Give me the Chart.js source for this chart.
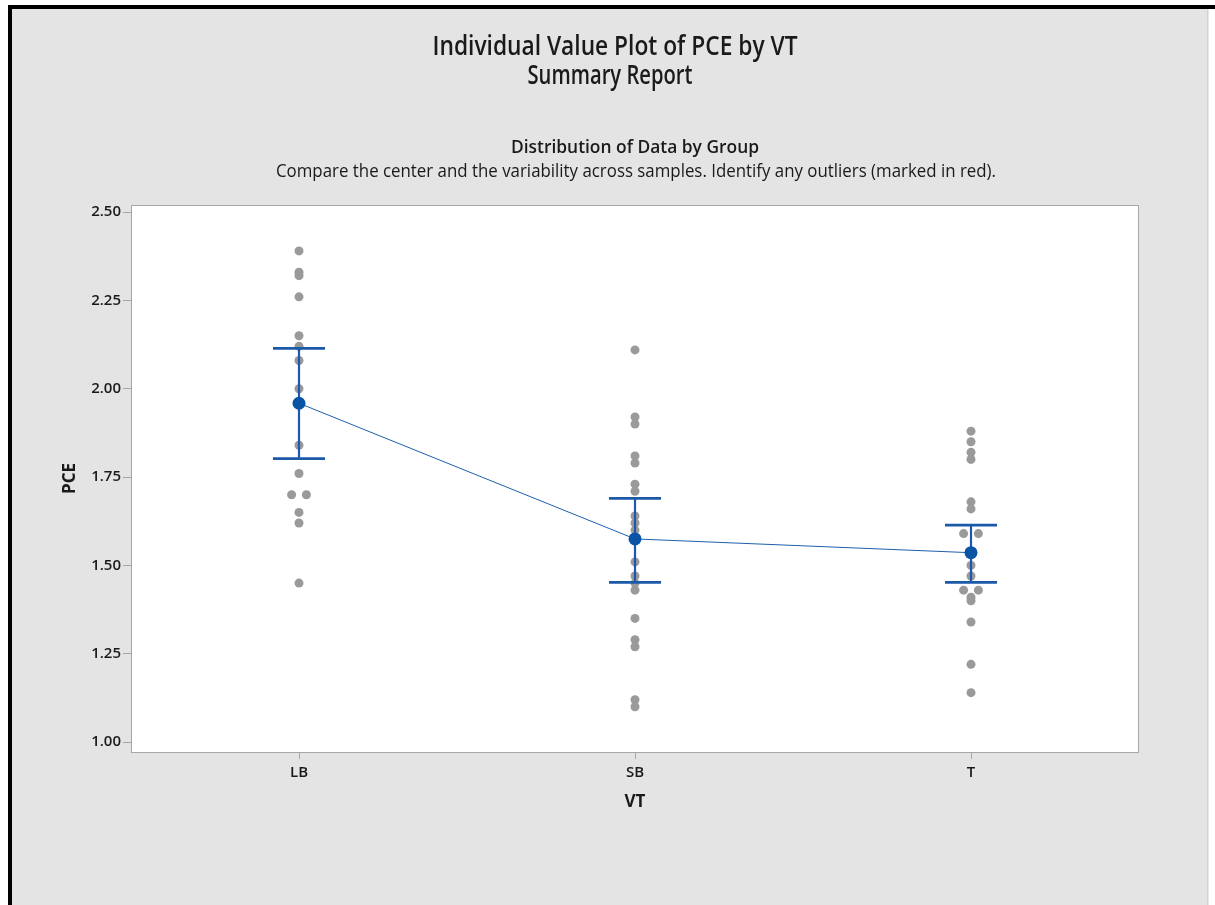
<!DOCTYPE html>
<html>
<head>
<meta charset="utf-8">
<title>Individual Value Plot of PCE by VT</title>
<script src="https://cdn.jsdelivr.net/npm/chart.js@4.4.1/dist/chart.umd.min.js"></script>
<style>
  html, body { margin: 0; padding: 0; background: #fff; }
  #wrap { width: 1215px; height: 905px; position: relative; }
</style>
</head>
<body>
<div id="wrap"><canvas id="grafico"></canvas></div>
<script>
// Dados
const groups = ['LB', 'SB', 'T'];
const lbValues = [2.39, 2.33, 2.32, 2.26, 2.15, 2.12, 2.08, 2.00, 1.84, 1.76, 1.70, 1.70, 1.65, 1.62, 1.45];
const sbValues = [2.11, 1.92, 1.90, 1.81, 1.79, 1.73, 1.71, 1.64, 1.62, 1.60, 1.51, 1.47, 1.45, 1.43, 1.35, 1.29, 1.27, 1.12, 1.10];
const tValues = [1.88, 1.85, 1.82, 1.80, 1.68, 1.66, 1.59, 1.59, 1.50, 1.47, 1.43, 1.43, 1.41, 1.40, 1.34, 1.22, 1.14];
const groupMeans = [1.959, 1.575, 1.536];
const ciUpper = [2.114, 1.690, 1.614];
const ciLower = [1.802, 1.452, 1.452];
const yTicks = [1.00, 1.25, 1.50, 1.75, 2.00, 2.25, 2.50];

const TEXT = '#1a1a1a';
const FONT = "'Open Sans', 'Noto Sans', sans-serif";

/**
 * Monta os pontos individuais; valores repetidos ficam lado a lado
 */
function montarPontos() {
    const all = [lbValues, sbValues, tValues];
    const pts = [];
    all.forEach(function(vals, g) {
        const seen = {};
        vals.forEach(function(v) {
            const key = v.toFixed(2);
            const n = vals.filter(function(o) { return o.toFixed(2) === key; }).length;
            seen[key] = (seen[key] || 0) + 1;
            let dx = 0;
            if (n > 1) {
                dx = (seen[key] - (n + 1) / 2) * 0.044;
            }
            pts.push({ x: g + dx, y: v });
        });
    });
    return pts;
}

// Fundo, moldura e caixa do gráfico
const fundoPlugin = {
    id: 'fundo',
    beforeDraw(chart) {
        const ctx = chart.ctx;
        const a = chart.chartArea;
        ctx.save();
        ctx.fillStyle = '#ffffff';
        ctx.fillRect(0, 0, chart.width, chart.height);
        ctx.fillStyle = '#e4e4e4';
        ctx.fillRect(12, 9, 1196, chart.height - 9);
        ctx.fillStyle = '#d2d2d2';
        ctx.fillRect(1207, 9, 1.5, chart.height - 9);
        ctx.fillStyle = '#000000';
        ctx.fillRect(8, 5, chart.width - 8, 4);
        ctx.fillRect(8, 5, 4, chart.height - 5);
        ctx.fillStyle = '#ffffff';
        ctx.fillRect(a.left, a.top, a.right - a.left, a.bottom - a.top);
        ctx.restore();
    },
    afterDraw(chart) {
        const ctx = chart.ctx;
        const a = chart.chartArea;
        ctx.save();
        ctx.strokeStyle = '#a6a6a6';
        ctx.lineWidth = 1;
        ctx.strokeRect(a.left + 0.5, a.top + 0.5, a.right - a.left - 1, a.bottom - a.top);
        ctx.restore();
    }
};

// Títulos com largura ajustada (fonte condensada no original)
const titulosPlugin = {
    id: 'titulos',
    afterDraw(chart) {
        const ctx = chart.ctx;
        const linhas = [
            { text: 'Individual Value Plot of PCE by VT', font: '600 27px ' + FONT, x: 615, y: 47, w: 365 },
            { text: 'Summary Report', font: '600 27px ' + FONT, x: 610, y: 76, w: 165 },
            { text: 'Distribution of Data by Group', font: '600 18px ' + FONT, x: 635, y: 148, w: 248 },
            { text: 'Compare the center and the variability across samples. Identify any outliers (marked in red).', font: '400 18px ' + FONT, x: 636, y: 172, w: 720 }
        ];
        ctx.save();
        ctx.fillStyle = TEXT;
        ctx.textAlign = 'center';
        ctx.textBaseline = 'middle';
        linhas.forEach(function(l) {
            ctx.font = l.font;
            const sx = l.w / ctx.measureText(l.text).width;
            ctx.save();
            ctx.translate(l.x, l.y);
            ctx.scale(sx, 1);
            ctx.fillText(l.text, 0, 0);
            ctx.restore();
        });
        ctx.restore();
    }
};

// Intervalos de confiança desenhados depois dos pontos cinza
const intervaloPlugin = {
    id: 'intervalo',
    afterDatasetDraw(chart, args) {
        if (args.index !== 1) return;
        const ctx = chart.ctx;
        const xs = chart.scales.x;
        const ys = chart.scales.y;
        ctx.save();
        ctx.strokeStyle = '#1b5aa8';
        groups.forEach(function(g, i) {
            const px = xs.getPixelForValue(i);
            const top = ys.getPixelForValue(ciUpper[i]);
            const bot = ys.getPixelForValue(ciLower[i]);
            ctx.lineWidth = 2.2;
            ctx.beginPath();
            ctx.moveTo(px, top);
            ctx.lineTo(px, bot);
            ctx.stroke();
            ctx.lineWidth = 2.8;
            ctx.beginPath();
            ctx.moveTo(px - 26, top);
            ctx.lineTo(px + 26, top);
            ctx.moveTo(px - 26, bot);
            ctx.lineTo(px + 26, bot);
            ctx.stroke();
        });
        ctx.restore();
    }
};

const ctx = document.getElementById('grafico');
ctx.width = 1215;
ctx.height = 905;

new Chart(ctx, {
    type: 'scatter',
    data: {
        datasets: [
            {
                type: 'line',
                label: 'Mean',
                data: groupMeans.map(function(m, i) { return { x: i, y: m }; }),
                borderColor: '#1f5fad',
                borderWidth: 1,
                pointRadius: 6.5,
                pointBackgroundColor: '#0a54a6',
                pointBorderWidth: 0,
                fill: false,
                tension: 0
            },
            {
                label: 'PCE',
                data: montarPontos(),
                pointRadius: 4.5,
                pointBackgroundColor: '#9a9a9a',
                pointBorderWidth: 0
            }
        ]
    },
    options: {
        responsive: false,
        animation: false,
        layout: {
            padding: { top: 205, left: 60, right: 76, bottom: 93 }
        },
        plugins: {
            legend: { display: false },
            tooltip: { enabled: false }
        },
        scales: {
            x: {
                type: 'linear',
                min: -0.5,
                max: 2.5,
                afterBuildTicks: function(scale) {
                    scale.ticks = groups.map(function(g, i) { return { value: i }; });
                },
                afterFit: function(scale) { scale.height = 60; },
                ticks: {
                    callback: function(v) { return groups[v]; },
                    color: TEXT,
                    font: { family: FONT, size: 15, weight: '600' },
                    padding: 5,
                    maxRotation: 0
                },
                grid: {
                    display: true,
                    drawOnChartArea: false,
                    drawTicks: true,
                    tickLength: 7,
                    color: '#a6a6a6'
                },
                border: { display: false },
                title: {
                    display: true,
                    text: 'VT',
                    color: TEXT,
                    font: { family: FONT, size: 17, weight: '700' },
                    padding: 0
                }
            },
            y: {
                min: 0.972,
                max: 2.52,
                afterBuildTicks: function(scale) {
                    scale.ticks = yTicks.map(function(v) { return { value: v }; });
                },
                afterFit: function(scale) { scale.width = 71; },
                ticks: {
                    callback: function(v) { return Number(v).toFixed(2); },
                    color: TEXT,
                    font: { family: FONT, size: 15, weight: '600' },
                    padding: 2
                },
                grid: {
                    display: true,
                    drawOnChartArea: false,
                    drawTicks: true,
                    tickLength: 8,
                    color: '#a6a6a6'
                },
                border: { display: false },
                title: {
                    display: true,
                    text: 'PCE',
                    color: TEXT,
                    font: { family: FONT, size: 17, weight: '700' },
                    padding: 0
                }
            }
        }
    },
    plugins: [fundoPlugin, intervaloPlugin, titulosPlugin]
});
</script>
</body>
</html>
